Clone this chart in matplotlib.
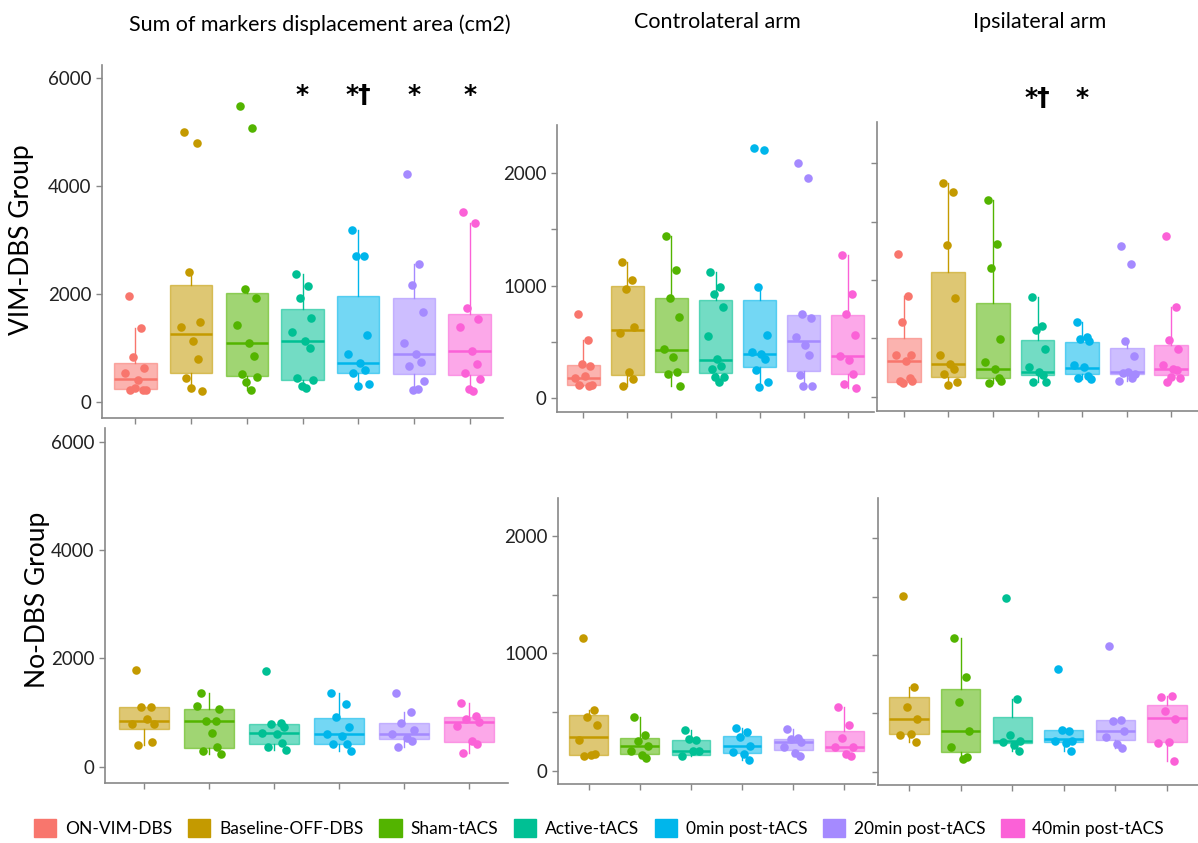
import numpy as np
import matplotlib.pyplot as plt
from matplotlib.patches import Patch

# categories and colours (ggplot hue palette)
groups = ['ON-VIM-DBS', 'Baseline-OFF-DBS', 'Sham-tACS', 'Active-tACS',
          '0min post-tACS', '20min post-tACS', '40min post-tACS']
colors = ['#F8766D', '#C49A00', '#53B400', '#00C094', '#00B6EB', '#A58AFF', '#FB61D7']

# box stats: (q1, median, q3, whisker low, whisker high)
sum_vim_box = [(247, 421, 724, 216, 1379), (544, 1268, 2165, 198, 2406),
               (476, 1095, 2017, 229, 2103), (414, 1126, 1732, 254, 2369),
               (538, 724, 1973, 297, 3186), (526, 885, 1930, 229, 2567),
               (495, 946, 1639, 204, 3316)]
contra_vim_box = [(113, 181, 290, 107, 519), (207, 607, 993, 107, 1209),
                  (228, 430, 889, 110, 1437), (219, 341, 868, 139, 1120),
                  (276, 394, 874, 95, 984), (243, 510, 738, 104, 750),
                  (213, 370, 738, 92, 1271)]
ipsi_vim_box = [(129, 306, 506, 114, 863), (171, 277, 1071, 100, 1829),
                (157, 234, 806, 120, 1680), (186, 214, 486, 129, 851),
                (191, 249, 466, 149, 637), (191, 211, 420, 134, 477),
                (189, 237, 446, 129, 771)]
sum_nodbs_box = [(689, 837, 1095, 400, 1108), (338, 843, 1065, 234, 1354),
                 (418, 615, 782, 308, 812), (412, 603, 905, 289, 1354),
                 (505, 603, 812, 369, 1003), (462, 818, 923, 246, 1169)]
contra_nodbs_box = [(139, 290, 477, 125, 523), (142, 210, 281, 111, 460),
                    (139, 170, 267, 125, 347), (153, 210, 295, 97, 364),
                    (176, 247, 273, 125, 361), (170, 205, 341, 131, 545)]
ipsi_nodbs_box = [(320, 449, 643, 251, 723), (171, 351, 709, 106, 1143),
                  (243, 263, 471, 180, 626), (257, 277, 360, 180, 360),
                  (271, 349, 443, 200, 443), (254, 460, 569, 91, 649)]

# individual subjects
sum_vim_pts = [[1967, 1379, 829, 637, 538, 414, 216, 216, 229, 260],
               [5011, 4800, 2406, 1485, 1392, 1126, 798, 452, 198, 266],
               [5481, 5079, 2103, 1924, 1435, 1095, 847, 520, 458, 371, 229],
               [2369, 2159, 1924, 1559, 1305, 1126, 1008, 445, 402, 297, 254],
               [3186, 2709, 2709, 1243, 885, 724, 600, 544, 340, 297],
               [4219, 2567, 2165, 1670, 1095, 885, 742, 674, 390, 229, 235],
               [3514, 3316, 1744, 1540, 1398, 946, 711, 544, 433, 247, 204]]
contra_vim_pts = [[750, 519, 302, 287, 181, 193, 107, 119, 119],
                  [1209, 1052, 969, 631, 578, 231, 166, 107],
                  [1437, 1141, 886, 717, 436, 367, 228, 216, 110],
                  [1120, 984, 924, 812, 548, 344, 281, 255, 184, 184, 139],
                  [2219, 2207, 984, 560, 406, 388, 350, 249, 142, 95],
                  [2086, 1953, 750, 714, 539, 471, 379, 201, 104, 107],
                  [1271, 927, 747, 560, 370, 341, 213, 127, 92]]
ipsi_vim_pts = [[1220, 863, 643, 354, 354, 306, 163, 134, 134, 114],
                [1829, 1749, 1300, 846, 354, 277, 234, 194, 129, 100],
                [1680, 1309, 1106, 491, 300, 234, 157, 120, 134],
                [851, 609, 569, 406, 251, 214, 186, 129, 129],
                [637, 509, 491, 477, 271, 251, 180, 163, 149],
                [1291, 1134, 477, 349, 134, 211, 157, 206, 194],
                [1377, 771, 486, 406, 271, 234, 229, 129, 157, 166]]
sum_nodbs_pts = [[1785, 1108, 1095, 788, 788, 874, 462, 400],
                 [1354, 843, 843, 1065, 1120, 615, 357, 295, 234],
                 [1766, 812, 782, 738, 615, 597, 431, 369, 308],
                 [1354, 1151, 911, 738, 603, 572, 418, 418, 289],
                 [1354, 1003, 812, 677, 597, 523, 480, 369],
                 [1169, 935, 874, 825, 751, 480, 418, 246]]
contra_nodbs_pts = [[1134, 523, 460, 395, 261, 134, 142, 125],
                    [460, 304, 256, 210, 168, 134, 111],
                    [347, 267, 270, 170, 125, 170],
                    [364, 332, 290, 213, 162, 142, 97],
                    [361, 284, 270, 247, 205, 153, 125],
                    [545, 395, 284, 205, 205, 142, 131]]
ipsi_nodbs_pts = [[1509, 723, 557, 449, 311, 323, 251],
                  [1143, 814, 600, 351, 209, 106, 129],
                  [1491, 626, 311, 263, 257, 229, 180],
                  [880, 351, 357, 263, 263, 249, 180],
                  [1074, 440, 437, 351, 300, 234, 200],
                  [637, 649, 517, 454, 249, 254, 91]]

plt.rcParams['font.family'] = ['Lato', 'DejaVu Sans']

# fixed jitter pattern
jit = np.array([-0.12, 0.1, -0.04, 0.16, -0.18, 0.04, 0.13, -0.09, 0.19, -0.01, 0.07])

W, H = 1198, 843
fig = plt.figure(figsize=(W / 100, H / 100), dpi=100)


def add_ax(l, t, w, h):
    return fig.add_axes([l / W, 1 - (t + h) / H, w / W, h / H])


def draw(ax, box, pts, cols, ylim, ticks, labels, minor=None):
    n = len(box)
    pos = np.arange(1, n + 1)
    stats = []
    for (q1, med, q3, lo, hi) in box:
        stats.append(dict(q1=q1, med=med, q3=q3, whislo=lo, whishi=hi, fliers=[]))
    bp = ax.bxp(stats, positions=pos, widths=0.76, patch_artist=True,
                showcaps=False, showfliers=False)
    for i, c in enumerate(cols):
        bp['boxes'][i].set(facecolor=c, alpha=0.55, edgecolor=c, linewidth=1)
        bp['medians'][i].set(color=c, linewidth=1.8)
        bp['whiskers'][2 * i].set(color=c, linewidth=1)
        bp['whiskers'][2 * i + 1].set(color=c, linewidth=1)
    for i, c in enumerate(cols):
        v = np.array(pts[i])
        ax.scatter(pos[i] + jit[:len(v)], v, s=38, color=c, zorder=3, linewidths=0)
    ax.set_xlim(0.4, n + 0.6)
    ax.set_ylim(*ylim)
    ax.set_xticks(pos)
    ax.set_xticklabels([])
    ax.set_yticks(ticks)
    ax.set_yticklabels(labels if labels else [])
    if minor is not None:
        ax.set_yticks(minor, minor=True)
    for s in ['top', 'right']:
        ax.spines[s].set_visible(False)
    for s in ['left', 'bottom']:
        ax.spines[s].set_color('#888888')
        ax.spines[s].set_linewidth(1.2)
    ax.tick_params(which='both', color='#888888', length=4, width=1,
                   labelsize=13.5, labelcolor='#222222')


def mark(ax, x, y, s):
    ax.text(x, y, s, ha='center', va='center', fontsize=18, fontweight='bold',
            family=['DejaVu Sans'], clip_on=False)


ax1 = add_ax(102, 65, 401, 353)
draw(ax1, sum_vim_box, sum_vim_pts, colors, (-297, 6247),
     [0, 2000, 4000, 6000], ['0', '2000', '4000', '6000'])
ax2 = add_ax(557, 125, 317, 287)
draw(ax2, contra_vim_box, contra_vim_pts, colors, (-124, 2427),
     [0, 1000, 2000], ['0', '1000', '2000'], minor=[500, 1500])
ax3 = add_ax(877, 122, 321, 289)
draw(ax3, ipsi_vim_box, ipsi_vim_pts, colors, (-122, 2352),
     [0, 500, 1000, 1500, 2000], None)

ax4 = add_ax(105, 428, 403, 355)
draw(ax4, sum_nodbs_box, sum_nodbs_pts, colors[1:], (-301, 6253),
     [0, 2000, 4000, 6000], ['0', '2000', '4000', '6000'])
ax5 = add_ax(558, 498, 317, 286)
draw(ax5, contra_nodbs_box, contra_nodbs_pts, colors[1:], (-111, 2323),
     [0, 1000, 2000], ['0', '1000', '2000'], minor=[500, 1500])
ax6 = add_ax(878, 498, 320, 287)
draw(ax6, ipsi_nodbs_box, ipsi_nodbs_pts, colors[1:], (-114, 2346),
     [0, 500, 1000, 1500, 2000], None)

# significance marks
mark(ax1, 4, 5700, '*')
mark(ax1, 5, 5700, '*\u2020')
mark(ax1, 6, 5700, '*')
mark(ax1, 7, 5700, '*')
mark(ax3, 4, 2560, '*\u2020')
mark(ax3, 5, 2560, '*')

# column titles and row labels
fig.text(320 / W, 1 - 25 / H, 'Sum of markers displacement area (cm2)', ha='center',
         va='center', fontsize=15.5)
fig.text(717 / W, 1 - 22 / H, 'Controlateral arm', ha='center', va='center', fontsize=15.5)
fig.text(1040 / W, 1 - 22 / H, 'Ipsilateral arm', ha='center', va='center', fontsize=15.5)
fig.text(22 / W, 1 - 240 / H, 'VIM-DBS Group', rotation=90, ha='center', va='center',
         fontsize=19)
fig.text(38 / W, 1 - 600 / H, 'No-DBS Group', rotation=90, ha='center', va='center',
         fontsize=19)

handles = [Patch(facecolor=c, edgecolor=c, label=g) for g, c in zip(groups, colors)]
fig.legend(handles=handles, loc='center', bbox_to_anchor=(0.5, 1 - 828 / H), ncol=7,
           frameon=False, fontsize=12.5, handlelength=1.3, handleheight=1.3,
           columnspacing=0.9, handletextpad=0.5)

fig.savefig('out.png', dpi=100)
